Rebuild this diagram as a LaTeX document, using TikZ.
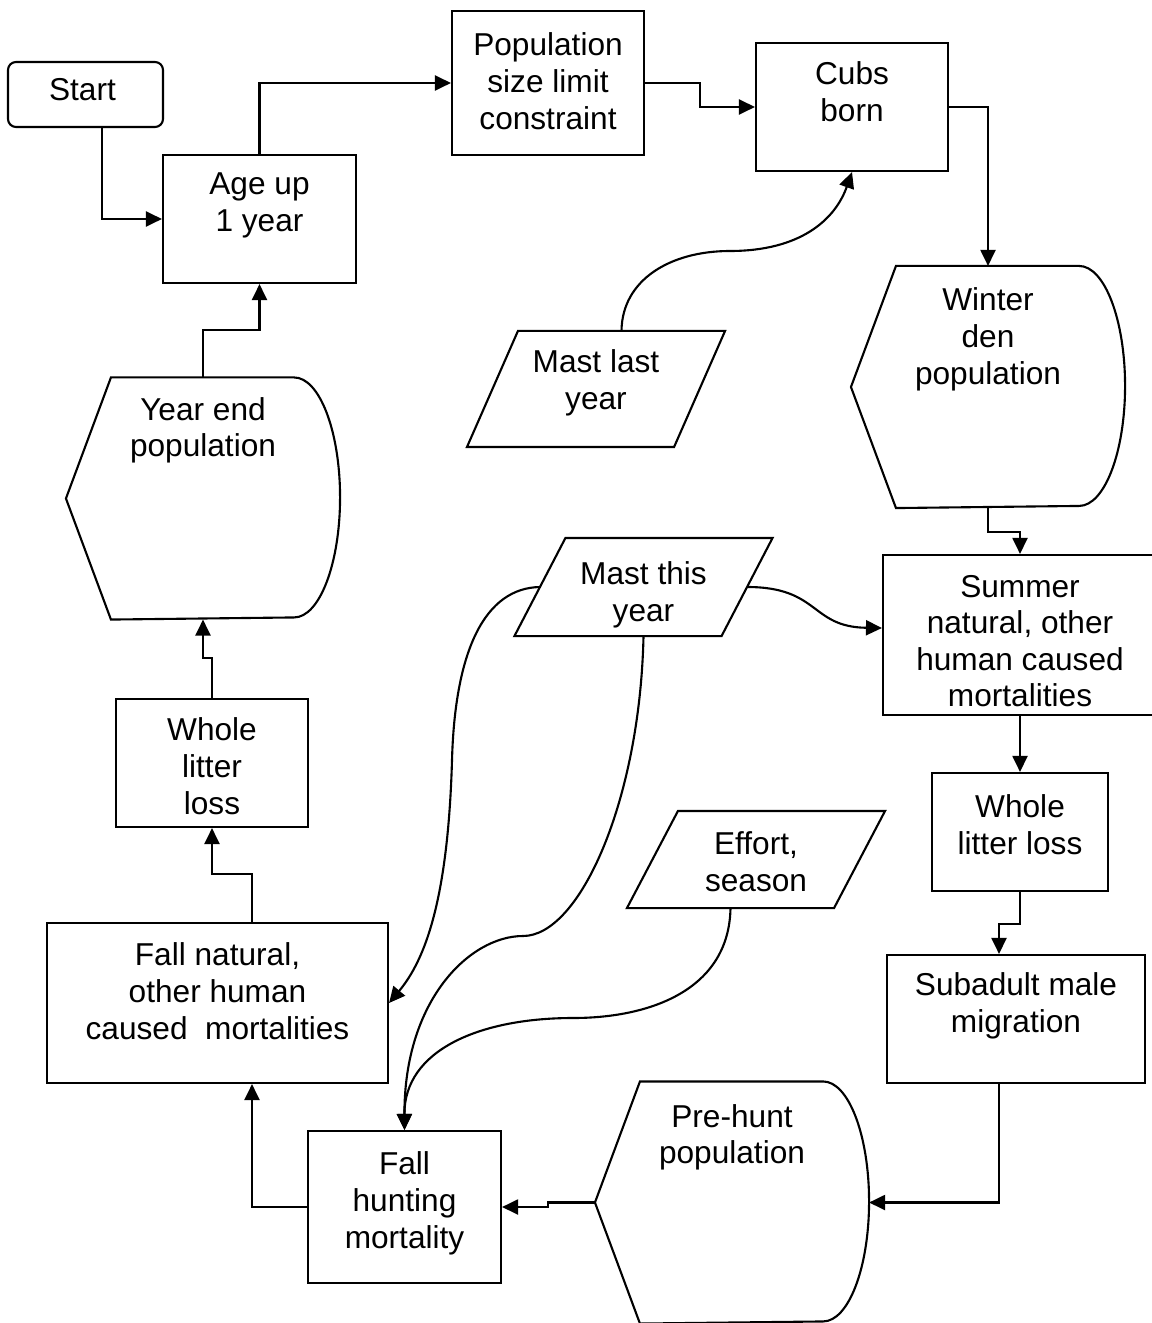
\documentclass[tikz,border=0pt]{standalone}
\usepackage{fontspec}
\setmainfont{Liberation Sans}
\usetikzlibrary{arrows.meta, positioning}
\tikzset{
    flowbase/.style={line width=0.6pt, >={Triangle[length=0.16cm, width=0.15cm]}},
    process/.style={rectangle, draw, inner sep=0pt},
    startstop/.style={process, rounded corners=0.08cm},
    data/.style={rectangle, inner sep=0pt, minimum width=2.05cm},
    display/.style={rectangle, inner sep=0pt, minimum width=2.72cm, minimum height=2.4cm},
    flowtext/.style={align=center, inner sep=0pt, font=\fontsize{9}{10.4}\selectfont},
    line/.style={draw, ->},
}
% data outline: parallelogram leaning right round the node
\newcommand{\dataframe}[1]{%
    \draw ([xshift=-0.255cm]#1.south west) -- ([xshift=0.255cm]#1.north west)
        -- ([xshift=0.255cm]#1.north east) -- ([xshift=-0.255cm]#1.south east) -- cycle;}
% display outline: pointed left side, rounded right side
\newcommand{\displayframe}[1]{%
    \draw (#1.west) -- ([xshift=0.45cm]#1.north west) -- ([xshift=-0.46cm]#1.north east)
        arc[start angle=90, end angle=-90, x radius=0.46cm, y radius=1.2cm]
        -- ([xshift=0.45cm]#1.south west) -- cycle;}

\begin{document}
\begin{tikzpicture}[flowbase]
\useasboundingbox (0,0) rectangle (11.51,-13.23);

% ===================== TOP ROW =====================
\node[startstop, minimum width=1.55cm, minimum height=0.65cm] (n_start) at (0.855,-0.945) {};
\node[flowtext, below=0.16cm of n_start.north, xshift=-0.03cm] (t_start) {Start};

\node[process, minimum width=1.93cm, minimum height=1.28cm] (n_age) at (2.595,-2.19) {};
\node[flowtext, below=0.18cm of n_age.north] (t_age) {Age up\\1 year};

\node[process, minimum width=1.92cm, minimum height=1.44cm] (n_limit) at (5.48,-0.83) {};
\node[flowtext, below=0.22cm of n_limit.north] (t_limit) {Population\\size limit\\constraint};

\node[process, minimum width=1.92cm, minimum height=1.28cm] (n_cubs) at (8.52,-1.07) {};
\node[flowtext, below=0.19cm of n_cubs.north] (t_cubs) {Cubs\\born};

\node[data, minimum height=1.14cm] (n_mlast) at (5.96,-3.89) {};
\dataframe{n_mlast}
\node[flowtext, below=0.18cm of n_mlast.north] (t_mlast) {Mast last\\year};

% ===================== RIGHT COLUMN =====================
\node[display] (n_winter) at (9.88,-3.87) {};
\displayframe{n_winter}
\node[flowtext, below=0.21cm of n_winter.north] (t_winter) {Winter\\den\\population};

\node[process, minimum width=2.74cm, minimum height=1.60cm] (n_summer) at (10.20,-6.35) {};
\node[flowtext, below=0.20cm of n_summer.north] (t_summer) {Summer\\natural, other\\human caused\\mortalities};

\node[process, minimum width=1.76cm, minimum height=1.18cm] (n_litr) at (10.20,-8.32) {};
\node[flowtext, below=0.22cm of n_litr.north] (t_litr) {Whole\\litter loss};

\node[process, minimum width=2.58cm, minimum height=1.28cm] (n_subad) at (10.16,-10.19) {};
\node[flowtext, below=0.18cm of n_subad.north] (t_subad) {Subadult male\\migration};

\node[display] (n_prehunt) at (7.32,-12.025) {};
\displayframe{n_prehunt}
\node[flowtext, below=0.22cm of n_prehunt.north] (t_prehunt) {Pre-hunt\\population};

% ===================== MIDDLE =====================
\node[data, minimum height=0.96cm] (n_mthis) at (6.435,-5.87) {};
\dataframe{n_mthis}
\node[flowtext, below=0.23cm of n_mthis.north] (t_mthis) {Mast this\\year};

\node[data, minimum height=0.95cm] (n_effort) at (7.56,-8.595) {};
\dataframe{n_effort}
\node[flowtext, below=0.20cm of n_effort.north] (t_effort) {Effort,\\season};

\node[process, minimum width=1.93cm, minimum height=1.52cm] (n_hunt) at (4.045,-12.07) {};
\node[flowtext, below=0.21cm of n_hunt.north] (t_hunt) {Fall\\hunting\\mortality};

% ===================== LEFT COLUMN =====================
\node[process, minimum width=3.41cm, minimum height=1.60cm] (n_fallnat) at (2.175,-10.03) {};
\node[flowtext, below=0.20cm of n_fallnat.north] (t_fallnat) {Fall natural,\\other human\\caused\ \ mortalities};

\node[process, minimum width=1.92cm, minimum height=1.28cm] (n_litl) at (2.12,-7.63) {};
\node[flowtext, below=0.19cm of n_litl.north] (t_litl) {Whole\\litter\\loss};

\node[display] (n_yearend) at (2.03,-4.985) {};
\displayframe{n_yearend}
\node[flowtext, below=0.19cm of n_yearend.north] (t_yearend) {Year end\\population};

% ===================== CONNECTORS =====================
\draw[line] ([xshift=0.165cm]n_start.south) |- (n_age.west);
\draw[line] (n_age.north) |- (n_limit.west);
\draw[line] (n_limit.east) -- ++(0.55,0) |- (n_cubs.west);
\draw[line] (n_cubs.east) -| (n_winter.north);
\draw[line] (n_winter.south) -- ++(0,-0.24) -| (n_summer.north);
\draw[line] (n_summer.south) -- (n_litr.north);
\draw[line] (n_litr.south) -- ++(0,-0.32) -| ([xshift=-0.17cm]n_subad.north);
\draw[line] ([xshift=-0.17cm]n_subad.south) |- (n_prehunt.east);
\draw[line] (n_prehunt.west) -- ++(-0.47,0) |- (n_hunt.east);
\draw[line] (n_hunt.west) -| ([xshift=0.345cm]n_fallnat.south);
\draw[line] ([xshift=0.345cm]n_fallnat.north) -- ++(0,0.48) -| (n_litl.south);
\draw[line] (n_litl.north) -- ++(0,0.40) -| (n_yearend.south);
\draw[line] (n_yearend.north) -- ++(0,0.47) -| (n_age.south);

% mast and effort inputs
\draw[line] ([xshift=0.255cm]n_mlast.north) .. controls (6.22,-2.80) and (6.70,-2.51) .. (7.30,-2.51)
    .. controls (8.00,-2.51) and (8.35,-2.20) .. (n_cubs.south);
\draw[line] (n_mthis.east) .. controls (8.20,-5.87) and (8.10,-6.27) .. ([yshift=0.07cm]n_summer.west);
\draw[line] (n_mthis.west) .. controls (4.85,-5.88) and (4.55,-6.50) .. (4.52,-7.60)
    .. controls (4.48,-9.00) and (4.25,-9.60) .. (n_fallnat.east);
\draw[line] (n_mthis.south) .. controls (6.40,-8.00) and (5.80,-9.36) .. (5.23,-9.36)
    .. controls (4.70,-9.36) and (4.04,-10.00) .. (n_hunt.north);
\draw[line] ([xshift=-0.255cm]n_effort.south) .. controls (7.29,-9.90) and (6.50,-10.18) .. (5.73,-10.18)
    .. controls (4.80,-10.18) and (4.04,-10.50) .. (n_hunt.north);

\end{tikzpicture}
\end{document}
